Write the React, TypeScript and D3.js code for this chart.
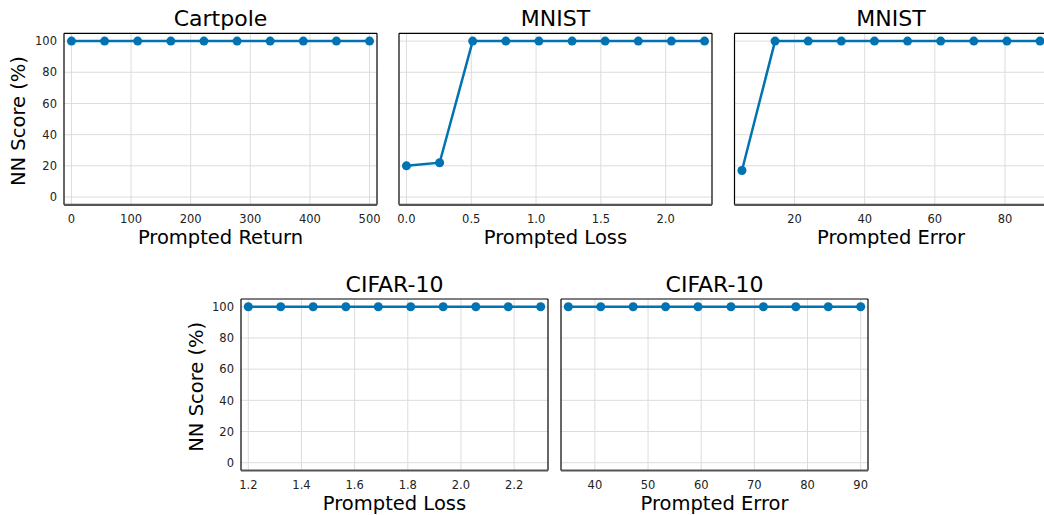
import React from "react";
import * as d3 from "d3";

const cartpoleX = [0, 55.6, 111.1, 166.7, 222.2, 277.8, 333.3, 388.9, 444.4, 500];
const cartpoleY = [100, 100, 100, 100, 100, 100, 100, 100, 100, 100];
const mnistLossX = [0, 0.256, 0.511, 0.767, 1.022, 1.278, 1.533, 1.789, 2.044, 2.3];
const mnistLossY = [20, 22, 100, 100, 100, 100, 100, 100, 100, 100];
const mnistErrX = [5, 14.44, 23.89, 33.33, 42.78, 52.22, 61.67, 71.11, 80.56, 90];
const mnistErrY = [17, 100, 100, 100, 100, 100, 100, 100, 100, 100];
const cifarLossX = [1.2, 1.322, 1.444, 1.567, 1.689, 1.811, 1.933, 2.056, 2.178, 2.3];
const cifarLossY = [100, 100, 100, 100, 100, 100, 100, 100, 100, 100];
const cifarErrX = [35, 41.1, 47.2, 53.3, 59.4, 65.6, 71.7, 77.8, 83.9, 90];
const cifarErrY = [100, 100, 100, 100, 100, 100, 100, 100, 100, 100];

const yTicks = [0, 20, 40, 60, 80, 100];
const cartpoleTicks = [0, 100, 200, 300, 400, 500];
const mnistLossTicks = [0, 0.5, 1.0, 1.5, 2.0];
const mnistErrTicks = [20, 40, 60, 80];
const cifarLossTicks = [1.2, 1.4, 1.6, 1.8, 2.0, 2.2];
const cifarErrTicks = [40, 50, 60, 70, 80, 90];

const FONT = "DejaVu Sans, sans-serif";
const BLUE = "#0173b2";
const W = 1044;
const H = 515;

type PanelProps = {
  x0: number; y0: number; w: number; h: number;
  title: string; xlabel: string; showY: boolean;
  xs: number[]; ys: number[]; xTicks: number[]; xDomain: [number, number];
  fmt: (v: number) => string; clipId: string; yLabelOff?: number; xLabelOff?: number;
};

function Panel(p: PanelProps) {
  const x = d3.scaleLinear().domain(p.xDomain).range([p.x0, p.x0 + p.w]);
  const y = d3.scaleLinear().domain([-5, 105]).range([p.y0 + p.h, p.y0]);
  const pts = p.xs.map((v, i) => [x(v), y(p.ys[i])] as [number, number]);
  const line = d3.line()(pts) || "";
  const cx = p.x0 + p.w / 2;
  return (
    <g>
      <defs>
        <clipPath id={p.clipId}>
          <rect x={p.x0} y={p.y0 - 6} width={p.w} height={p.h + 12} />
        </clipPath>
      </defs>
      <rect x={p.x0} y={p.y0} width={p.w} height={p.h} fill="#fff" />
      {p.xTicks.map((t) => (
        <line key={"gx" + t} x1={x(t)} x2={x(t)} y1={p.y0} y2={p.y0 + p.h} stroke="#dcdcdc" strokeWidth={1} />
      ))}
      {yTicks.map((t) => (
        <line key={"gy" + t} x1={p.x0} x2={p.x0 + p.w} y1={y(t)} y2={y(t)} stroke="#dcdcdc" strokeWidth={1} />
      ))}
      <g clipPath={`url(#${p.clipId})`}>
        <path d={line} fill="none" stroke={BLUE} strokeWidth={2.5} />
        {pts.map((q, i) => (
          <circle key={i} cx={q[0]} cy={q[1]} r={4.5} fill={BLUE} />
        ))}
      </g>
      <line x1={p.x0} x2={p.x0} y1={p.y0} y2={p.y0 + p.h} stroke="#000" strokeWidth={1.2} />
      <line x1={p.x0} x2={p.x0 + p.w} y1={p.y0} y2={p.y0} stroke="#000" strokeWidth={1.2} />
      <line x1={p.x0 + p.w} x2={p.x0 + p.w} y1={p.y0} y2={p.y0 + p.h} stroke="#000" strokeWidth={1.2} />
      <line x1={p.x0} x2={p.x0 + p.w} y1={p.y0 + p.h} y2={p.y0 + p.h} stroke="#555" strokeWidth={2.2} />
      {p.xTicks.map((t) => (
        <text key={"tx" + t} x={x(t)} y={p.y0 + p.h + 18.5} textAnchor="middle" fontSize={11.5} fontFamily={FONT} fill="#222">
          {p.fmt(t)}
        </text>
      ))}
      {p.showY &&
        yTicks.map((t) => (
          <text key={"ty" + t} x={p.x0 - 7} y={y(t) + 4.2} textAnchor="end" fontSize={11.5} fontFamily={FONT} fill="#222">
            {t}
          </text>
        ))}
      <text x={cx} y={p.y0 - 7} textAnchor="middle" fontSize={22} fontFamily={FONT} fill="#000">
        {p.title}
      </text>
      <text x={cx} y={p.y0 + p.h + (p.xLabelOff ?? 39.5)} textAnchor="middle" fontSize={19.5} fontFamily={FONT} fill="#000">
        {p.xlabel}
      </text>
      {p.showY && (
        <text transform={`translate(${p.x0 - (p.yLabelOff ?? 39)},${p.y0 + p.h / 2 + 2}) rotate(-90)`} textAnchor="middle" fontSize={19.5} fontFamily={FONT} fill="#000">
          NN Score (%)
        </text>
      )}
    </g>
  );
}

const f0 = (v: number) => d3.format("d")(v);
const f1 = (v: number) => d3.format(".1f")(v);

export default function App() {
  const topY = 33.3, topH = 171.5;
  const botY = 299, botH = 171.5;
  return (
    <svg width={W} height={H} style={{ position: "absolute", left: 0, top: 0 }}>
      <rect width={W} height={H} fill="#fff" />
      <Panel clipId="c1" x0={64} y0={topY} w={313} h={topH} title="Cartpole" xlabel="Prompted Return" showY
        xs={cartpoleX} ys={cartpoleY} xTicks={cartpoleTicks} xDomain={[-12.5, 512.5]} fmt={f0} />
      <Panel clipId="c2" x0={399} y0={topY} w={313} h={topH} title="MNIST" xlabel="Prompted Loss" showY={false}
        xs={mnistLossX} ys={mnistLossY} xTicks={mnistLossTicks} xDomain={[-0.0575, 2.3575]} fmt={f1} />
      <Panel clipId="c3" x0={734.5} y0={topY} w={313} h={topH} title="MNIST" xlabel="Prompted Error" showY={false}
        xs={mnistErrX} ys={mnistErrY} xTicks={mnistErrTicks} xDomain={[2.875, 92.125]} fmt={f0} />
      <Panel clipId="c4" x0={241} y0={botY} w={307} h={botH} title="CIFAR-10" xlabel="Prompted Loss" showY yLabelOff={38}
        xs={cifarLossX} ys={cifarLossY} xTicks={cifarLossTicks} xDomain={[1.1725, 2.3275]} fmt={f1} />
      <Panel clipId="c5" x0={561} y0={botY} w={307} h={botH} title="CIFAR-10" xlabel="Prompted Error" showY={false}
        xs={cifarErrX} ys={cifarErrY} xTicks={cifarErrTicks} xDomain={[33.625, 91.375]} fmt={f0} />
    </svg>
  );
}
